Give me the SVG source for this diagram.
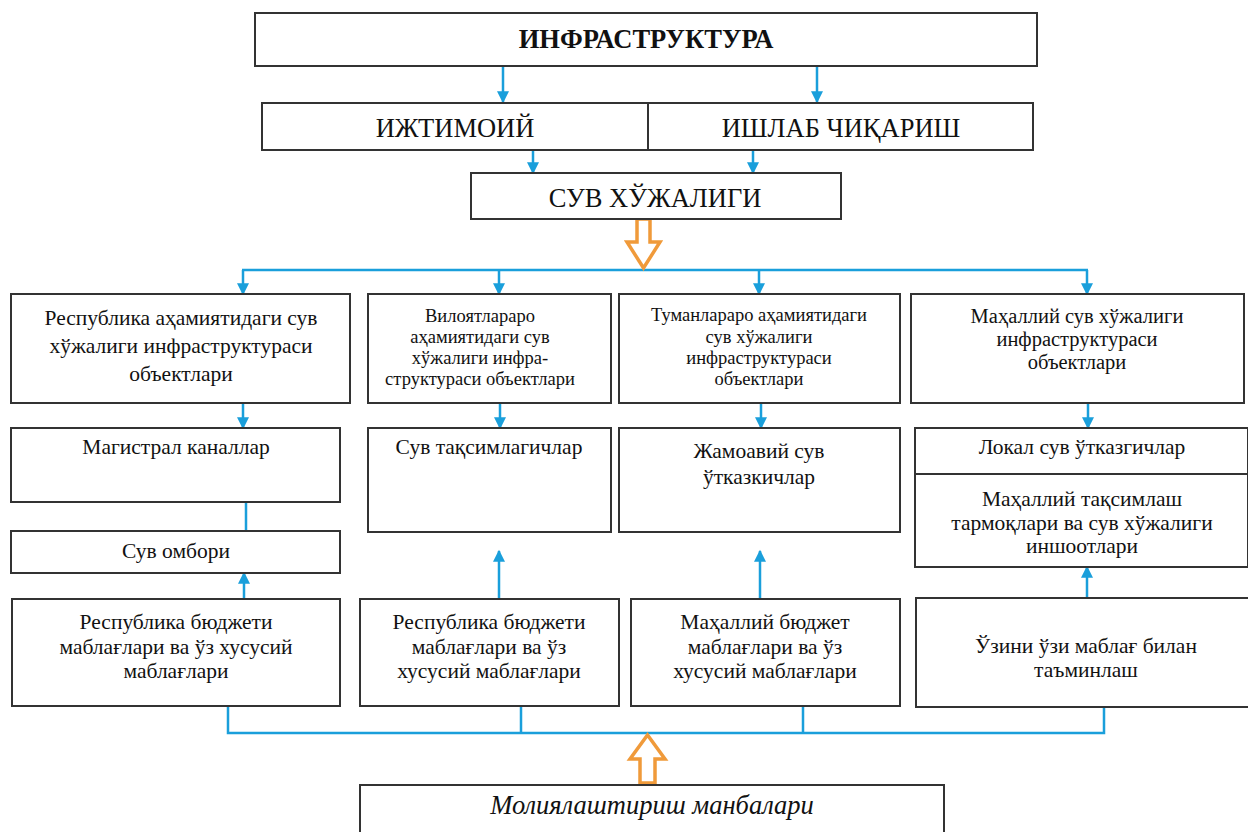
<svg xmlns="http://www.w3.org/2000/svg" width="1248" height="832" viewBox="0 0 1248 832">
<style>
.box{fill:#fff;stroke:#333;stroke-width:2}
text{font-family:"Liberation Serif","Times New Roman",serif;fill:#111;text-anchor:middle}
.h{font-size:26.5px}
.a{font-size:21.5px}
.b{font-size:21.5px}
.s{font-size:18.5px}
.m{font-size:20.5px}
.c{stroke:#1A9FDB;stroke-width:2.5;fill:none}
.ca{stroke:#1A9FDB;stroke-width:2.5;fill:none;marker-end:url(#ah)}
.o{fill:#fff;stroke:#F09A3A;stroke-width:3.5}
</style>
<defs>
<marker id="ah" viewBox="0 0 10 10" refX="9" refY="5" markerWidth="13" markerHeight="12" markerUnits="userSpaceOnUse" orient="auto">
<path d="M0,0 L10,5 L0,10 z" fill="#1A9FDB"/>
</marker>
</defs>
<rect width="1248" height="832" fill="#fff"/>

<g id="connectors">
<line class="ca" x1="503" y1="66" x2="503" y2="102"/>
<line class="ca" x1="817" y1="66" x2="817" y2="102"/>
<line class="ca" x1="533" y1="150" x2="533" y2="173"/>
<line class="ca" x1="753" y1="150" x2="753" y2="173"/>
<line class="c" x1="242" y1="270" x2="1088" y2="270"/>
<line class="ca" x1="243" y1="270" x2="243" y2="294"/>
<line class="ca" x1="499" y1="270" x2="499" y2="294"/>
<line class="ca" x1="759" y1="270" x2="759" y2="294"/>
<line class="ca" x1="1087" y1="270" x2="1087" y2="294"/>
<line class="ca" x1="243" y1="403" x2="243" y2="428"/>
<line class="ca" x1="500" y1="403" x2="500" y2="428"/>
<line class="ca" x1="761" y1="403" x2="761" y2="428"/>
<line class="ca" x1="1088" y1="403" x2="1088" y2="428"/>
<line class="c" x1="246" y1="502" x2="246" y2="531"/>
<line class="ca" x1="244" y1="599" x2="244" y2="573"/>
<line class="ca" x1="499" y1="599" x2="499" y2="551"/>
<line class="ca" x1="760" y1="599" x2="760" y2="551"/>
<line class="ca" x1="1087" y1="598" x2="1087" y2="567"/>
<path class="c" d="M228,706 V733 H1104 V707 M521,706 V733 M803,706 V733"/>
<path class="o" d="M637,219 H650 V242 H660 L643.5,268 L627,242 H637 Z"/>
<path class="o" d="M640,783 H655 V759 H665 L647.5,735 L630,759 H640 Z"/>
</g>

<g id="infra">
<rect class="box" x="255" y="13" width="782" height="53"/>
<text class="h" x="646" y="48" font-weight="bold" font-size="27">ИНФРАСТРУКТУРА</text>
</g>
<g id="ijtimoiy">
<rect class="box" x="262" y="103" width="386" height="47"/>
<text class="h" x="455" y="137">ИЖТИМОИЙ</text>
</g>
<g id="ishlab">
<rect class="box" x="648" y="103" width="385" height="47"/>
<text class="h" x="841" y="137">ИШЛАБ ЧИҚАРИШ</text>
</g>
<g id="suv">
<rect class="box" x="471" y="173" width="370" height="46"/>
<text class="h" x="655" y="207">СУВ ХЎЖАЛИГИ</text>
</g>

<g id="resp">
<rect class="box" x="11" y="294" width="339" height="109"/>
<text class="a" x="181" y="325">Республика аҳамиятидаги сув</text>
<text class="a" x="181" y="353">хўжалиги инфраструктураси</text>
<text class="a" x="181" y="381">объектлари</text>
</g>
<g id="vil">
<rect class="box" x="368" y="294" width="243" height="109"/>
<text class="s" x="480" y="322">Вилоятлараро</text>
<text class="s" x="480" y="343">аҳамиятидаги сув</text>
<text class="s" x="480" y="364">хўжалиги инфра-</text>
<text class="s" x="480" y="385">структураси объектлари</text>
</g>
<g id="tum">
<rect class="box" x="619" y="294" width="281" height="109"/>
<text class="s" x="759" y="321">Туманлараро аҳамиятидаги</text>
<text class="s" x="759" y="343">сув хўжалиги</text>
<text class="s" x="759" y="364">инфраструктураси</text>
<text class="s" x="759" y="385">объектлари</text>
</g>
<g id="mah">
<rect class="box" x="911" y="294" width="333" height="109"/>
<text class="m" x="1077" y="323">Маҳаллий  сув хўжалиги</text>
<text class="m" x="1077" y="346">инфраструктураси</text>
<text class="m" x="1077" y="369">объектлари</text>
</g>

<g id="magistral">
<rect class="box" x="11" y="428" width="329" height="74"/>
<text class="b" x="176" y="454">Магистрал каналлар</text>
</g>
<g id="ombor">
<rect class="box" x="11" y="531" width="329" height="42"/>
<text class="b" x="176" y="558">Сув омбори</text>
</g>
<g id="taqsim">
<rect class="box" x="368" y="428" width="243" height="104"/>
<text class="b" x="489" y="454">Сув тақсимлагичлар</text>
</g>
<g id="jamoa">
<rect class="box" x="619" y="428" width="281" height="104"/>
<text class="b" x="759" y="458">Жамоавий сув</text>
<text class="b" x="759" y="484">ўтказкичлар</text>
</g>
<g id="lokal">
<rect class="box" x="915" y="428" width="333" height="46"/>
<text class="b" x="1082" y="454">Локал сув ўтказгичлар</text>
</g>
<g id="mahtaqsim">
<rect class="box" x="915" y="474" width="333" height="93"/>
<text class="b" x="1082" y="506">Маҳаллий тақсимлаш</text>
<text class="b" x="1082" y="530">тармоқлари ва сув хўжалиги</text>
<text class="b" x="1082" y="553">иншоотлари</text>
</g>

<g id="f1">
<rect class="box" x="12" y="599" width="328" height="107"/>
<text class="b" x="176" y="629">Республика бюджети</text>
<text class="b" x="176" y="654">маблағлари ва ўз хусусий</text>
<text class="b" x="176" y="678">маблағлари</text>
</g>
<g id="f2">
<rect class="box" x="360" y="599" width="259" height="107"/>
<text class="b" x="489" y="629">Республика бюджети</text>
<text class="b" x="489" y="654">маблағлари ва ўз</text>
<text class="b" x="489" y="678">хусусий маблағлари</text>
</g>
<g id="f3">
<rect class="box" x="631" y="599" width="269" height="107"/>
<text class="b" x="765" y="629">Маҳаллий бюджет</text>
<text class="b" x="765" y="654">маблағлари ва ўз</text>
<text class="b" x="765" y="678">хусусий маблағлари</text>
</g>
<g id="f4">
<rect class="box" x="916" y="598" width="334" height="109"/>
<text class="b" x="1086" y="653">Ўзини ўзи маблағ билан</text>
<text class="b" x="1086" y="677">таъминлаш</text>
</g>

<g id="manba">
<rect class="box" x="360" y="785" width="584" height="60"/>
<text x="652" y="814" font-size="26.5" font-style="italic">Молиялаштириш манбалари</text>
</g>
</svg>
